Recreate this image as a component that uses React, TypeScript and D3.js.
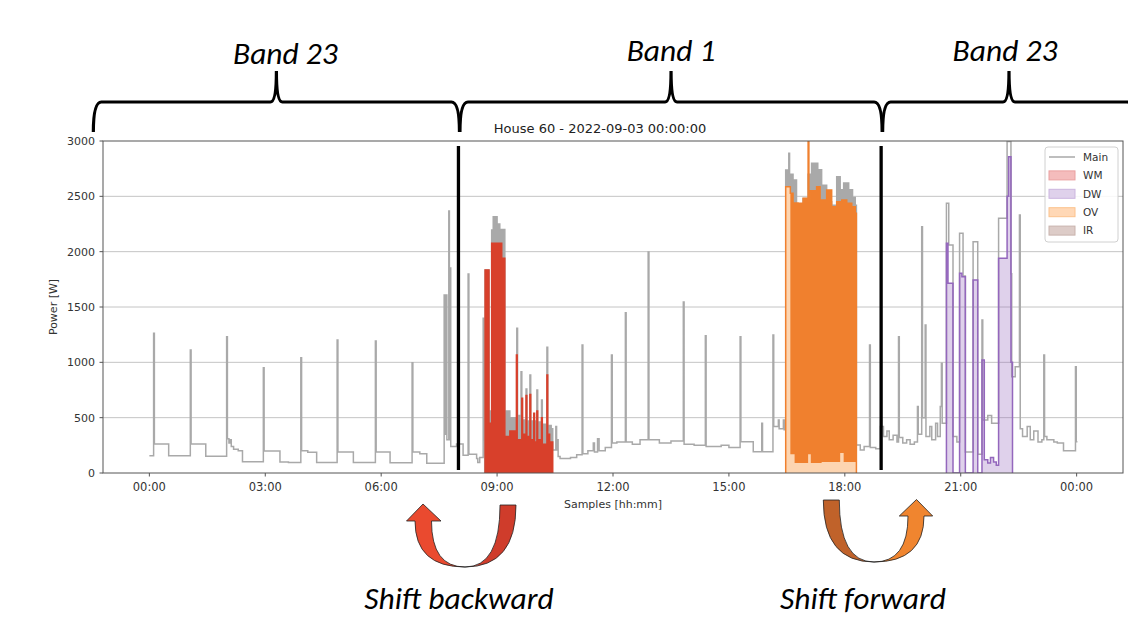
import { useEffect, useRef } from "react";
import * as d3 from "d3";

const W = 1128;
const H = 618;

// axis ticks
const xTicks = [0, 3, 6, 9, 12, 15, 18, 21, 24];
const yTicks = [0, 500, 1000, 1500, 2000, 2500, 3000];

// aggregate (Main) power, [hour, watts], step-after
const mainTrace: number[][] = [
  [0.0, 157], [0.11, 1262], [0.13, 262], [0.5, 155],
  [1.06, 1111], [1.08, 262], [1.46, 152],
  [2.0, 1232], [2.02, 310], [2.06, 270], [2.09, 300], [2.12, 240], [2.18, 215], [2.3, 200], [2.41, 102],
  [2.95, 952], [2.97, 198], [3.38, 100], [3.6, 95],
  [3.92, 1042], [3.94, 200], [4.1, 188], [4.33, 95],
  [4.86, 1202], [4.88, 190], [5.28, 95],
  [5.85, 1192], [5.87, 190], [6.23, 92],
  [6.8, 997], [6.82, 190], [7.0, 175], [7.18, 88],
  [7.63, 1608], [7.65, 350], [7.68, 1608], [7.7, 300], [7.75, 2367], [7.765, 300], [7.78, 1852], [7.8, 240],
  [7.95, 262], [8.12, 160], [8.25, 1798], [8.27, 170], [8.47, 130], [8.5, 95], [8.55, 140],
  [8.64, 1398], [8.66, 300], [8.69, 1834], [8.79, 560], [8.86, 2196], [8.9, 2316], [9.0, 2250], [9.07, 2200],
  [9.2, 560], [9.33, 500], [9.51, 1308], [9.53, 520], [9.62, 915], [9.64, 480], [9.75, 760], [9.77, 470],
  [9.85, 885], [9.87, 470], [10.03, 750], [10.05, 460], [10.15, 660], [10.17, 440], [10.29, 1136], [10.31, 430],
  [10.4, 400], [10.44, 208], [10.52, 420], [10.54, 208], [10.56, 300], [10.58, 150], [10.63, 130], [10.9, 140],
  [11.06, 165], [11.2, 1157], [11.22, 175], [11.35, 200], [11.49, 270], [11.52, 190], [11.6, 310], [11.64, 200],
  [11.8, 230], [11.96, 1066], [11.98, 270], [12.1, 280], [12.32, 1449], [12.34, 280], [12.5, 260],
  [12.7, 300], [12.91, 1997], [12.93, 300], [13.2, 270], [13.5, 290], [13.82, 1545], [13.84, 260], [14.1, 250],
  [14.39, 1240], [14.41, 240], [14.8, 250], [15.0, 230], [15.29, 1232], [15.31, 283], [15.63, 193],
  [15.85, 450], [15.87, 193], [16.14, 1247], [16.16, 420], [16.28, 480], [16.3, 400], [16.41, 480], [16.43, 390],
  [16.47, 2738], [16.55, 2889], [16.57, 2700], [16.66, 2648], [16.75, 2420], [16.92, 2480], [17.05, 2700],
  [17.14, 2798], [17.3, 2740], [17.4, 2600], [17.53, 2450], [17.66, 2420], [17.79, 2678], [17.88, 2560],
  [17.97, 2620], [18.1, 2560], [18.2, 2490], [18.27, 2420], [18.3, 253],
  [18.4, 208], [18.5, 240], [18.64, 1157], [18.66, 230], [18.8, 220], [18.92, 420], [19.0, 330],
  [19.09, 380], [19.15, 300], [19.25, 340], [19.35, 280], [19.39, 1232], [19.41, 320], [19.5, 270], [19.6, 300],
  [19.69, 260], [19.8, 280], [19.88, 600], [19.9, 350], [19.99, 2226], [20.01, 500], [20.08, 1337], [20.1, 330],
  [20.2, 420], [20.25, 300], [20.35, 450], [20.4, 330], [20.47, 600], [20.5, 991], [20.52, 450],
  [20.63, 2437], [20.69, 2060], [20.8, 330], [20.9, 280], [20.97, 2166], [21.06, 1780], [21.12, 190],
  [21.32, 2090], [21.44, 170], [21.55, 1383], [21.57, 480], [21.7, 520], [21.8, 450], [21.98, 2301],
  [22.2, 2995], [22.3, 1800], [22.32, 870], [22.41, 961], [22.52, 2331], [22.54, 400], [22.6, 330], [22.72, 420],
  [22.8, 300], [22.89, 380], [23.0, 280], [23.1, 300], [23.15, 1066], [23.17, 330], [23.23, 300], [23.41, 280],
  [23.5, 270], [23.66, 200], [23.97, 961], [23.99, 283], [24.02, 283],
];

// spans where the main signal flickers fast enough to look filled
const burstSpans = [[8.66, 10.44], [16.47, 18.3]];

// washing machine, [hour, watts]
const wmTrace: number[][] = [
  [8.69, 1834], [8.79, 450], [8.86, 2075], [9.12, 1940], [9.2, 330], [9.33, 380], [9.5, 1066], [9.52, 300],
  [9.64, 675], [9.66, 350], [9.75, 700], [9.77, 330], [9.85, 710], [9.87, 300], [9.95, 540], [9.97, 280],
  [10.03, 560], [10.05, 300], [10.15, 500], [10.17, 260], [10.29, 885], [10.31, 350], [10.36, 280], [10.44, 0],
];

// oven, [hour, low, high] envelope of the cycling element
const ovTrace: number[][] = [
  [16.47, 2587, 2587], [16.59, 170, 2527], [16.66, 170, 2440], [16.7, 90, 2440], [16.79, 90, 2437],
  [16.92, 90, 2482], [17.05, 170, 3100], [17.07, 170, 2450], [17.1, 170, 2550], [17.12, 90, 2550],
  [17.27, 90, 2587], [17.36, 90, 2467], [17.4, 100, 2467], [17.53, 100, 2557], [17.66, 100, 2407],
  [17.79, 100, 2452], [17.88, 180, 2452], [17.92, 180, 2467], [17.97, 100, 2467], [18.05, 100, 2437],
  [18.18, 100, 2407], [18.27, 100, 2347], [18.3, 0, 0],
];

// dishwasher, [hour, watts]
const dwTrace: number[][] = [
  [20.63, 2075], [20.67, 1714], [20.8, 0], [20.97, 1804], [21.03, 1774], [21.12, 0], [21.32, 1744], [21.44, 0],
  [21.55, 1021], [21.61, 120], [21.7, 90], [21.77, 140], [21.85, 100], [21.92, 70], [21.98, 1940],
  [22.2, 2500], [22.24, 2858], [22.3, 1000], [22.34, 0],
];

const legendLabels = ["Main", "WM", "DW", "OV", "IR"];
const legendFill = ["", "#f4bcbc", "#dfd1eb", "#ffd8b6", "#ddccc8"];
const legendEdge = ["", "#eaa0a0", "#cbb5df", "#fcc28c", "#c9b3ad"];

// tariff bands (hours) and their labels
const bandNames = ["Band 23", "Band 1", "Band 23"];
const bandEdges = [-1.45, 8.0, 18.94, 25.52];
const bandLabelDx = [9, 0, -4];

export default function App() {
  const ref = useRef<SVGSVGElement>(null);

  useEffect(() => {
    if (!ref.current) return;
    const svg = d3.select(ref.current);
    svg.selectAll("*").remove();

    const x = d3.scaleLinear().domain([-1.2, 25.2]).range([103, 1123]);
    const y = d3.scaleLinear().domain([0, 3000]).range([473, 141]);
    const [x0, x1] = x.range();
    const [yb, yt] = y.range();

    svg.append("defs").append("clipPath").attr("id", "plotclip")
      .append("rect").attr("x", x0).attr("y", yt).attr("width", x1 - x0).attr("height", yb - yt);

    // grid
    svg.append("g").selectAll("line").data(yTicks.slice(1, -1)).join("line")
      .attr("x1", x0).attr("x2", x1).attr("y1", (d) => y(d)).attr("y2", (d) => y(d))
      .attr("stroke", "#c4c4c4").attr("stroke-width", 1);

    const plot = svg.append("g").attr("clip-path", "url(#plotclip)");

    const stepLine = d3.line<number[]>().x((d) => x(d[0])).y((d) => y(d[1])).curve(d3.curveStepAfter);
    const stepArea = d3.area<number[]>().x((d) => x(d[0])).y0(y(0)).y1((d) => y(d[1])).curve(d3.curveStepAfter);
    const bandArea = d3.area<number[]>().x((d) => x(d[0])).y0((d) => y(d[1])).y1((d) => y(d[2])).curve(d3.curveStepAfter);

    const gray = "#a9a9a9";

    // filled bursts of the main signal
    burstSpans.forEach(([a, b]) => {
      const pts = mainTrace.filter((d) => d[0] >= a && d[0] <= b);
      plot.append("path").attr("d", stepArea(pts)).attr("fill", gray);
    });

    plot.append("path").attr("d", stepLine(mainTrace))
      .attr("fill", "none").attr("stroke", gray).attr("stroke-width", 1.5);

    // WM
    const red = "#d8402b";
    plot.append("path").attr("d", stepArea(wmTrace)).attr("fill", red);
    plot.append("path").attr("d", stepLine([[wmTrace[0][0], 0], ...wmTrace]))
      .attr("fill", "none").attr("stroke", red).attr("stroke-width", 1.5);

    // OV
    const orange = "#f0802e";
    plot.append("path").attr("d", stepArea(ovTrace.map((d) => [d[0], d[2]]))).attr("fill", "#fdd5b1");
    plot.append("path").attr("d", bandArea(ovTrace)).attr("fill", orange);
    plot.append("path").attr("d", stepLine([[ovTrace[0][0], 0], ...ovTrace.map((d) => [d[0], d[2]])]))
      .attr("fill", "none").attr("stroke", orange).attr("stroke-width", 1.5);

    // DW
    const purple = "#9467bd";
    plot.append("path").attr("d", stepArea(dwTrace)).attr("fill", purple).attr("fill-opacity", 0.3);
    plot.append("path").attr("d", stepLine([[dwTrace[0][0], 0], ...dwTrace]))
      .attr("fill", "none").attr("stroke", purple).attr("stroke-width", 1.5);

    // band split markers
    svg.append("g").selectAll("line").data(bandEdges.slice(1, -1)).join("line")
      .attr("x1", (d) => x(d)).attr("x2", (d) => x(d)).attr("y1", yt + 5).attr("y2", yb - 3)
      .attr("stroke", "#000").attr("stroke-width", 3.3);

    // spines
    svg.append("rect").attr("x", x0).attr("y", yt).attr("width", x1 - x0).attr("height", yb - yt)
      .attr("fill", "none").attr("stroke", "#555").attr("stroke-width", 1);

    const tickFont = "'DejaVu Sans', sans-serif";
    const fmt = (h: number) => String(h % 24).padStart(2, "0") + ":00";
    const xa = svg.append("g");
    xa.selectAll("line").data(xTicks).join("line")
      .attr("x1", (d) => x(d)).attr("x2", (d) => x(d)).attr("y1", yb).attr("y2", yb + 3.5)
      .attr("stroke", "#555");
    xa.selectAll("text").data(xTicks).join("text")
      .attr("x", (d) => x(d)).attr("y", yb + 18).attr("text-anchor", "middle")
      .attr("font-family", tickFont).attr("font-size", 11.5).attr("fill", "#333").text((d) => fmt(d));

    const ya = svg.append("g");
    ya.selectAll("line").data(yTicks).join("line")
      .attr("x1", x0 - 3.5).attr("x2", x0).attr("y1", (d) => y(d)).attr("y2", (d) => y(d))
      .attr("stroke", "#555");
    ya.selectAll("text").data(yTicks).join("text")
      .attr("x", x0 - 8).attr("y", (d) => y(d) + 4).attr("text-anchor", "end")
      .attr("font-family", tickFont).attr("font-size", 11).attr("fill", "#333").text((d) => String(d));

    svg.append("text").attr("x", (x0 + x1) / 2).attr("y", yb + 35).attr("text-anchor", "middle")
      .attr("font-family", tickFont).attr("font-size", 11).attr("fill", "#333").text("Samples [hh:mm]");
    svg.append("text").attr("transform", `translate(57,${(yt + yb) / 2}) rotate(-90)`)
      .attr("text-anchor", "middle").attr("font-family", tickFont).attr("font-size", 11).attr("fill", "#333")
      .text("Power [W]");
    svg.append("text").attr("x", 600).attr("y", yt - 8).attr("text-anchor", "middle")
      .attr("font-family", tickFont).attr("font-size", 13).attr("fill", "#222")
      .text("House 60 - 2022-09-03 00:00:00");

    // legend
    const lg = svg.append("g").attr("transform", "translate(1045,147)");
    lg.append("rect").attr("width", 73).attr("height", 95).attr("rx", 3)
      .attr("fill", "#fff").attr("fill-opacity", 0.85).attr("stroke", "#d0d0d0");
    legendLabels.forEach((lab, i) => {
      const cy = 10 + i * 18.4;
      if (i === 0) {
        lg.append("line").attr("x1", 4).attr("x2", 30).attr("y1", cy).attr("y2", cy)
          .attr("stroke", gray).attr("stroke-width", 1.5);
      } else {
        lg.append("rect").attr("x", 4).attr("y", cy - 4.5).attr("width", 26).attr("height", 9)
          .attr("fill", legendFill[i]).attr("stroke", legendEdge[i]);
      }
      lg.append("text").attr("x", 38).attr("y", cy + 3.8).attr("font-family", tickFont)
        .attr("font-size", 10.5).attr("fill", "#333").text(lab);
    });

    // braces over the tariff bands
    const bf = "Carlito, Lato, 'Open Sans', sans-serif";
    const by = 102;
    for (let i = 0; i < bandNames.length; i++) {
      const a = x(bandEdges[i]) + (i > 0 ? 1.5 : 0);
      const b = x(bandEdges[i + 1]) + (i < 2 ? 1 : 0);
      const m = (a + b) / 2;
      const p = `M${a},${by + 30} Q${a},${by} ${a + 8},${by} L${m - 6},${by} Q${m},${by} ${m},${by - 31}`
        + ` Q${m},${by} ${m + 6},${by} L${b - 8},${by} Q${b},${by} ${b},${by + 30}`;
      svg.append("path").attr("d", p).attr("fill", "none").attr("stroke", "#000").attr("stroke-width", 3.2);
      svg.append("text").attr("x", m + bandLabelDx[i]).attr("y", i === 0 ? 64 : 61).attr("text-anchor", "middle")
        .attr("font-family", bf).attr("font-style", "italic").attr("font-size", 31.5).attr("fill", "#000")
        .text(bandNames[i]);
    }

    // U-shaped shift arrows
    const uArrow = (o: { tail: number[]; ty: number; bx: number; by: number; shaft: number[]; sy: number;
      head: number[]; tip: number[]; tailCol: string; headCol: string }) => {
      const g = svg.append("g").attr("stroke", "#222").attr("stroke-width", 0.8).attr("stroke-linejoin", "round");
      const [t1, t2] = o.tail;
      g.append("path").attr("fill", o.tailCol)
        .attr("d", `M${t1},${o.ty} L${t2},${o.ty} Q${t2},${o.by} ${o.bx},${o.by} Q${t1},${o.by} ${t1},${o.ty} Z`);
      const [s1, s2] = o.shaft;
      g.append("path").attr("fill", o.headCol)
        .attr("d", `M${o.bx},${o.by} Q${s1},${o.by} ${s1},${o.sy} L${o.head[0]},${o.sy} L${o.tip[0]},${o.tip[1]}`
          + ` L${o.head[1]},${o.sy} L${s2},${o.sy} Q${s2},${o.by} ${o.bx},${o.by} Z`);
    };
    uArrow({ tail: [500, 516], ty: 505, bx: 465, by: 567, shaft: [415, 431.5], sy: 521,
      head: [406.5, 441], tip: [423, 504], tailCol: "#cf3c2b", headCol: "#ea4a2f" });
    uArrow({ tail: [839.3, 823.3], ty: 500, bx: 874, by: 562, shaft: [924, 908], sy: 516,
      head: [932.7, 899.3], tip: [916.5, 499.5], tailCol: "#c0622a", headCol: "#f0852f" });

    svg.append("text").attr("x", 459).attr("y", 609).attr("text-anchor", "middle")
      .attr("font-family", bf).attr("font-style", "italic").attr("font-size", 31.5).attr("fill", "#000")
      .text("Shift backward");
    svg.append("text").attr("x", 863).attr("y", 609).attr("text-anchor", "middle")
      .attr("font-family", bf).attr("font-style", "italic").attr("font-size", 31.5).attr("fill", "#000")
      .text("Shift forward");
  }, []);

  return (
    <svg ref={ref} width={W} height={H}
      style={{ position: "absolute", left: 0, top: 0, background: "#fff" }} />
  );
}
